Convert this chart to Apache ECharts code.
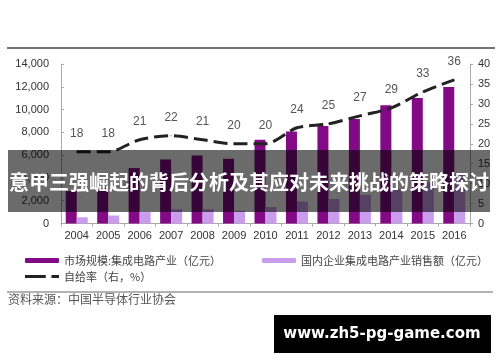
<!DOCTYPE html>
<html><head><meta charset="utf-8">
<script src="https://cdn.jsdelivr.net/npm/echarts@6/dist/echarts.min.js"></script>
<style>html,body{margin:0;padding:0;background:#fff}#c{width:500px;height:362px}</style>
</head><body><div id="c"></div>
<script>
const years = ['2004','2005','2006','2007','2008','2009','2010','2011','2012','2013','2014','2015','2016'];
const marketSize = [2850,3100,4860,5620,5970,5680,7350,8065,8560,9170,10390,11020,11985];
const domesticSales = [545,700,1000,1250,1250,1110,1440,1930,2160,2510,3015,3610,4335];
const selfRate = [18,18,21,22,21,20,20,24,25,27,29,33,36];
const leftTicks = {min:0,max:14000,interval:2000};
const rightTicks = {min:0,max:40,interval:5};
const names = ['市场规模:集成电路产业（亿元）','国内企业集成电路产业销售额（亿元）','自给率（右，%）'];
const titleText = '意甲三强崛起的背后分析及其应对未来挑战的策略探讨';
const sourceText = '资料来源：中国半导体行业协会';
const watermark = 'www.zh5-pg-game.com';

const chart = echarts.init(document.getElementById('c'));
const latin = 'Liberation Sans, Arial, sans-serif';
const cjk = '"Noto Sans CJK SC", sans-serif';
chart.setOption({
  animation:false,
  backgroundColor:'#fff',
  grid:{left:61,right:30,top:64,bottom:138.5},
  legend:[
    {orient:'vertical',left:20,top:250,itemGap:5,itemWidth:34,itemHeight:5,
     data:[{name:names[0]},{name:names[2],icon:'path://M0,1H22V4H0Z M28,1H36V4H28Z'}],
     textStyle:{fontFamily:cjk,fontSize:11,color:'#444'}},
    {left:257,top:250,itemWidth:34,itemHeight:5,
     data:[names[1]],textStyle:{fontFamily:cjk,fontSize:11,color:'#444'}}
  ],
  xAxis:{type:'category',data:years,
    axisLine:{lineStyle:{color:'#aaa'}},
    axisTick:{show:true,length:3,lineStyle:{color:'#aaa'}},
    axisLabel:{interval:0,color:'#333',fontSize:11,fontFamily:latin,margin:7}},
  yAxis:[
    {type:'value',min:leftTicks.min,max:leftTicks.max,interval:leftTicks.interval,
     splitLine:{show:false},
     axisLine:{show:true,lineStyle:{color:'#aaa'}},
     axisTick:{show:true,length:3,inside:true,lineStyle:{color:'#aaa'}},
     axisLabel:{color:'#333',fontSize:11,fontFamily:latin,margin:12,
       formatter:v=>v.toLocaleString('en-US')}},
    {type:'value',min:rightTicks.min,max:rightTicks.max,interval:rightTicks.interval,
     splitLine:{show:false},
     axisLine:{show:true,lineStyle:{color:'#aaa'}},
     axisTick:{show:true,length:3,lineStyle:{color:'#aaa'}},
     axisLabel:{color:'#333',fontSize:11,fontFamily:latin,margin:8}}
  ],
  series:[
    {name:names[0],type:'bar',data:marketSize,barWidth:11,barGap:'0%',
     itemStyle:{color:'#820a84'}},
    {name:names[1],type:'bar',data:domesticSales,barWidth:11,barGap:'0%',
     itemStyle:{color:'#c99cec'}},
    {name:names[2],type:'line',yAxisIndex:1,data:selfRate,smooth:0.3,
     symbol:'circle',symbolSize:1,showSymbol:true,
     lineStyle:{color:'#222',width:3,type:[14,6]},
     itemStyle:{color:'#222'},
     label:{show:true,position:'top',distance:12,color:'#555',fontSize:12,fontFamily:latin}}
  ],
  graphic:[
    {type:'line',shape:{x1:7,y1:48,x2:495,y2:48},style:{stroke:'#444',lineWidth:1.5},z:10},
    {type:'line',shape:{x1:7,y1:292,x2:493,y2:292},style:{stroke:'#999',lineWidth:1.5},z:10},
    {type:'text',left:8,top:293,style:{text:sourceText,fill:'#555',font:'12px '+cjk},z:10},
    {type:'rect',shape:{x:8,y:150,width:482,height:62},style:{fill:'rgba(0,0,0,0.58)'},z:100},
    {type:'text',x:249,y:182,style:{text:titleText,fill:'#fff',font:'bold 20px '+cjk,
      align:'center',verticalAlign:'middle'},z:101},
    {type:'rect',shape:{x:274,y:315,width:217,height:38},style:{fill:'#000'},z:100},
    {type:'text',x:382,y:334,style:{text:watermark,fill:'#fff',font:'bold 15px "DejaVu Sans", sans-serif',
      align:'center',verticalAlign:'middle'},z:101}
  ]
});
</script></body></html>
